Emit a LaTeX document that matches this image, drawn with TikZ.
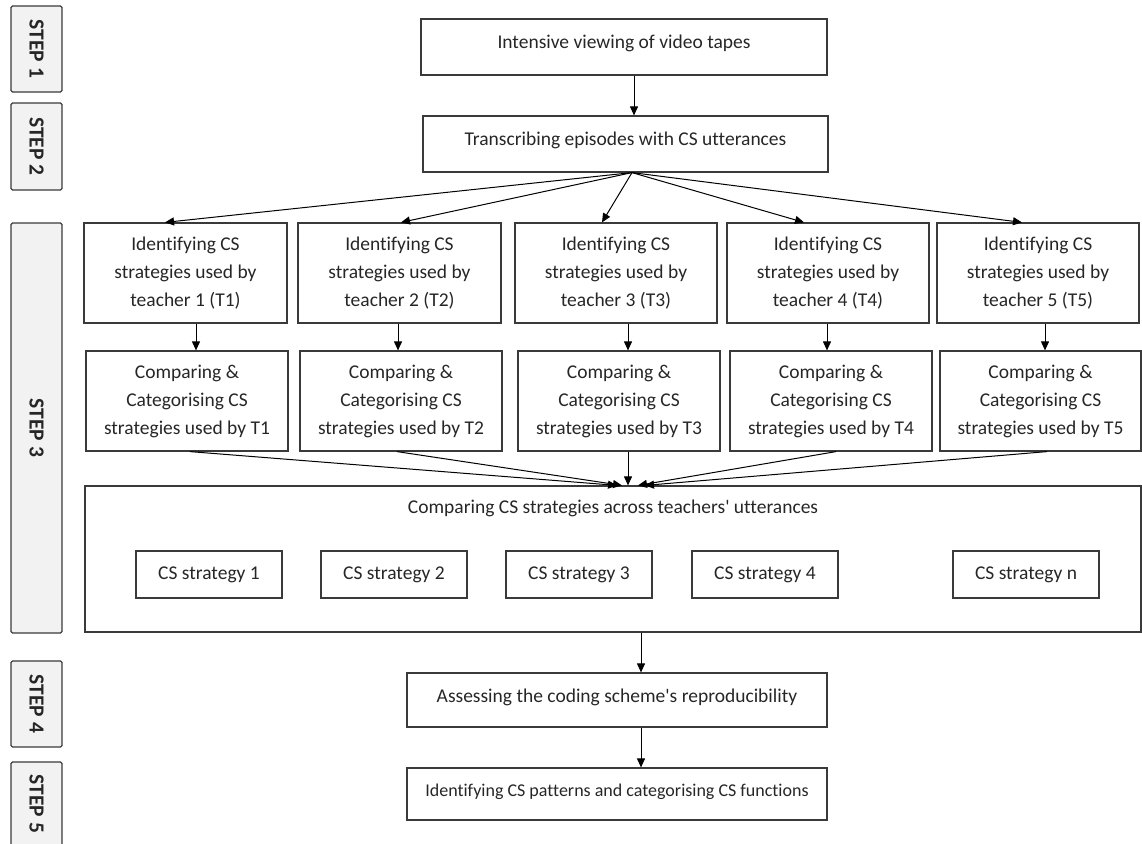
\documentclass[tikz,border=0pt]{standalone}
\usepackage{fontspec}
\setmainfont{Carlito}[Ligatures={TeXOff,NoCommon}]
\usetikzlibrary{arrows.meta,calc}
\definecolor{stepfill}{HTML}{F2F2F2}
\definecolor{linec}{HTML}{3A3A3A}
\definecolor{textc}{HTML}{262626}
\begin{document}
\begin{tikzpicture}[x=1pt,y=-1pt,
  every node/.style={font=\fontsize{19.5}{28}\selectfont, text=textc},
  box/.style={draw=linec, line width=1.2pt, align=center, inner sep=0pt},
  wide/.style={box, minimum width=405pt, minimum height=56pt, text height=14pt, text depth=11pt},
  ident/.style={box, minimum width=203pt, minimum height=100pt},
  strat/.style={box, minimum width=146pt, minimum height=47pt},
  stepbox/.style={draw=linec, fill=stepfill, line width=1.2pt, rounded corners=1.5pt, minimum width=51pt, inner sep=0pt, font=\fontsize{21.5}{24}\selectfont\bfseries},
  arr/.style={draw=black, line width=1pt, -{Triangle[length=9pt,width=8pt]}}]
\useasboundingbox (0,0) rectangle (1142,843);

% step labels
\node[stepbox, minimum height=86pt] (s1) at (36.5,49) {\rotatebox{-90}{STEP 1}};
\node[stepbox, minimum height=87pt] (s2) at (36.5,146.5) {\rotatebox{-90}{STEP 2}};
\node[stepbox, minimum height=410pt] (s3) at (36.5,428) {\rotatebox{-90}{STEP 3}};
\node[stepbox, minimum height=86pt] (s4) at (36.5,704) {\rotatebox{-90}{STEP 4}};
\node[stepbox, minimum height=84pt] (s5) at (36.5,804) {\rotatebox{-90}{STEP 5}};

% top boxes
\node[wide, minimum width=406pt] (v) at (624,47) {Intensive viewing of video tapes};
\node[wide] (t) at (625.5,144) {Transcribing episodes with CS utterances};

% identifying boxes
\node[ident] (i1) at (185.5,273) {Identifying CS\\strategies used by\\teacher 1 (T1)};
\node[ident] (i2) at (399.5,273) {Identifying CS\\strategies used by\\teacher 2 (T2)};
\node[ident, minimum width=202pt] (i3) at (616,273) {Identifying CS\\strategies used by\\teacher 3 (T3)};
\node[ident, minimum width=202pt] (i4) at (828,273) {Identifying CS\\strategies used by\\teacher 4 (T4)};
\node[ident, minimum width=202pt] (i5) at (1038,273) {Identifying CS\\strategies used by\\teacher 5 (T5)};

% comparing boxes
\node[ident, minimum width=202pt] (c1) at (187,401) {Comparing \&\\Categorising CS\\strategies used by T1};
\node[ident, minimum width=202pt] (c2) at (401,401) {Comparing \&\\Categorising CS\\strategies used by T2};
\node[ident, minimum width=202pt] (c3) at (619,401) {Comparing \&\\Categorising CS\\strategies used by T3};
\node[ident, minimum width=202pt] (c4) at (831,401) {Comparing \&\\Categorising CS\\strategies used by T4};
\node[ident, minimum width=201pt] (c5) at (1040.5,401) {Comparing \&\\Categorising CS\\strategies used by T5};

% big box
\node[box, minimum width=1056pt, minimum height=146pt,
  label={[name=bigtitle, anchor=north, yshift=-14pt, inner sep=0pt]north:Comparing CS strategies across teachers' utterances}] (big) at (613,559) {};
\node[strat] (p1) at (209,574.5) {CS strategy 1};
\node[strat] (p2) at (394,574.5) {CS strategy 2};
\node[strat] (p3) at (579,574.5) {CS strategy 3};
\node[strat] (p4) at (765,574.5) {CS strategy 4};
\node[strat] (pn) at (1026,574.5) {CS strategy n};

% bottom boxes
\node[wide, minimum width=420pt, minimum height=54pt, text depth=9pt] (a) at (617,700) {Assessing the coding scheme's reproducibility};
\node[wide, minimum width=420pt, minimum height=52pt, text depth=10pt, font=\fontsize{18}{24}\selectfont] (f) at (617,794) {Identifying CS patterns and categorising CS functions};

% connectors
\draw[arr] ([xshift=10pt]v.south) -- ([xshift=8.5pt]t.north);
\coordinate (fo) at ([xshift=6.5pt]t.south);
\draw[arr] (fo) -- ([xshift=-20.5pt]i1.north);
\draw[arr] (fo) -- ([xshift=1.5pt]i2.north);
\draw[arr] (fo) -- ([xshift=-14pt]i3.north);
\draw[arr] (fo) -- ([xshift=-24pt]i4.north);
\draw[arr] (fo) -- ([xshift=-16pt]i5.north);

\draw[arr] ([xshift=10.5pt]i1.south) -- ([xshift=9pt]c1.north);
\draw[arr] ([xshift=-1.5pt]i2.south) -- ([xshift=-3pt]c2.north);
\draw[arr] ([xshift=12pt]i3.south) -- ([xshift=9pt]c3.north);
\draw[arr] ([xshift=-1pt]i4.south) -- ([xshift=-4pt]c4.north);
\draw[arr] ([xshift=7pt]i5.south) -- ([xshift=4.5pt]c5.north);

\draw[arr] ([xshift=3pt]c1.south) -- ([xshift=4pt]big.north);
\draw[arr] ([xshift=-4pt]c2.south) -- ([xshift=9pt]big.north);
\draw[arr] ([xshift=9pt]c3.south) -- ([xshift=15pt]big.north);
\draw[arr] ([xshift=5pt]c4.south) -- ([xshift=25pt]big.north);
\draw[arr] ([xshift=6.5pt]c5.south) -- ([xshift=32pt]big.north);

\draw[arr] ([xshift=28pt]big.south) -- ([xshift=24pt]a.north);
\draw[arr] ([xshift=24pt]a.south) -- ([xshift=24pt]f.north);
\end{tikzpicture}
\end{document}
